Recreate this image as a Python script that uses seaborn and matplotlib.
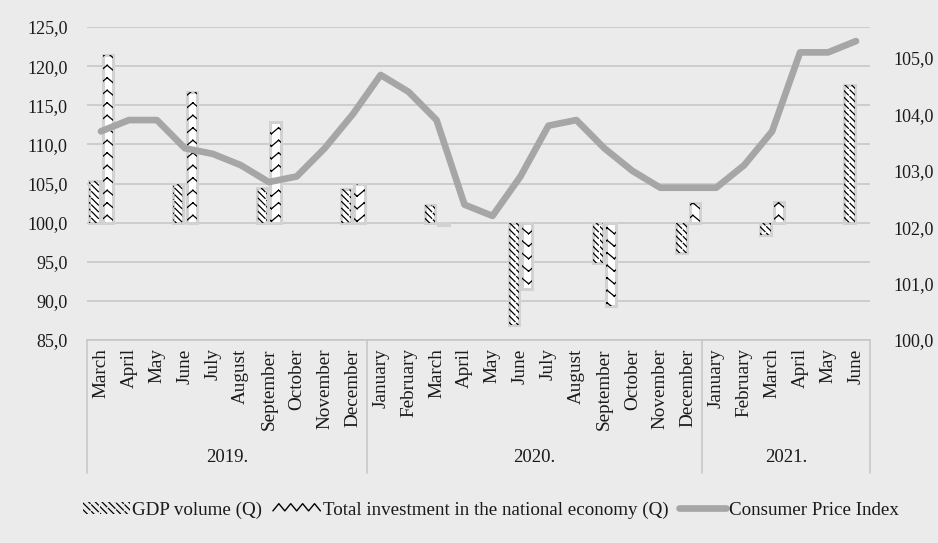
import warnings
import numpy as np
import matplotlib
matplotlib.use("Agg")
import matplotlib.pyplot as plt
import matplotlib.hatch as mhatch
import matplotlib.transforms as mtransforms
from matplotlib.path import Path
from matplotlib.patches import Patch
from matplotlib.lines import Line2D
from matplotlib.legend_handler import HandlerBase
from matplotlib.ticker import FuncFormatter, FixedLocator
import seaborn as sns

warnings.filterwarnings("ignore")

# ---------------------------------------------------------------- data
years = ["2019.", "2020.", "2021."]
months_2019 = ["March", "April", "May", "June", "July", "August",
               "September", "October", "November", "December"]
months_2020 = ["January", "February", "March", "April", "May", "June",
               "July", "August", "September", "October", "November", "December"]
months_2021 = ["January", "February", "March", "April", "May", "June"]

nan = np.nan
# quarterly series, reported at the last month of each quarter
gdp_volume = [105.3, nan, nan, 105.0, nan, nan, 104.4, nan, nan, 104.3,
              nan, nan, 102.3, nan, nan, 86.9, nan, nan, 94.8, nan, nan, 96.1,
              nan, nan, 98.4, nan, nan, 117.6]
total_investment = [121.4, nan, nan, 116.7, nan, nan, 112.9, nan, nan, 104.9,
                    nan, nan, 99.7, nan, nan, 91.5, nan, nan, 89.4, nan, nan, 102.5,
                    nan, nan, 102.6, nan, nan, nan]
consumer_price_index = [103.7, 103.9, 103.9, 103.4, 103.3, 103.1, 102.8, 102.9, 103.4, 104.0,
                        104.7, 104.4, 103.9, 102.4, 102.2, 102.9, 103.8, 103.9, 103.4, 103.0,
                        102.7, 102.7,
                        102.7, 103.1, 103.7, 105.1, 105.1, 105.3]

series_labels = ["GDP volume (Q)", "Total investment in the national economy (Q)",
                 "Consumer Price Index"]


# ---------------------------------------------------------------- custom hatches
class SegmentHatch(mhatch.HatchPatternBase):
    """Hatch built from independent two-point strokes (nothing gets filled)."""
    code = None

    def __init__(self, hatch, density):
        self.segs = self.build() if self.code in hatch else []
        self.num_vertices = 2 * len(self.segs)

    def build(self):
        return []

    def set_vertices_and_codes(self, vertices, codes):
        for i, (xa, ya, xb, yb) in enumerate(self.segs):
            vertices[2 * i] = (xa, ya)
            vertices[2 * i + 1] = (xb, yb)
            codes[2 * i] = Path.MOVETO
            codes[2 * i + 1] = Path.LINETO


class ZigzagHatch(SegmentHatch):
    """Rows of small horizontal zig-zags ('z')."""
    code = "z"
    rows, teeth, amp = 8, 7, 0.06

    def build(self):
        n = 2 * self.teeth + 1
        xs = np.linspace(0.0, 1.0, n)
        wiggle = self.amp * (np.arange(n) % 2)
        segs = []
        for r in range(self.rows):
            ys = (r + 0.3) / self.rows + wiggle
            for i in range(n - 1):
                segs.append((xs[i], ys[i], xs[i + 1], ys[i + 1]))
        return segs


class DashedDiagonalHatch(SegmentHatch):
    """Dashed downward diagonals ('d')."""
    code = "d"
    spacing, period, on = 1 / 15, 1 / 12, 0.8

    def build(self):
        segs = []
        n = int(round(2 / self.spacing))
        for k in range(n):
            c = k * self.spacing
            x0, x1 = max(0.0, c - 1.0), min(1.0, c)
            t = x0 - (x0 % self.period)
            while t < x1:
                a, b = max(t, x0), min(t + self.period * self.on, x1)
                if b > a:
                    segs.append((a, c - a, b, c - b))
                t += self.period
        return segs


mhatch._hatch_types.append(ZigzagHatch)
mhatch._hatch_types.append(DashedDiagonalHatch)


class HandlerZigzag(HandlerBase):
    def create_artists(self, legend, orig_handle, xdescent, ydescent,
                       width, height, fontsize, trans):
        n = 4
        k = np.arange(2 * n + 1)
        xs = np.linspace(0, width, 2 * n + 1) - xdescent
        ys = np.where(k % 2 == 1, height * 0.85, height * 0.25) - ydescent
        return [Line2D(xs, ys, color="black", lw=1.0, transform=trans)]


# ---------------------------------------------------------------- style
BG = "#ebebeb"
GRID = "#c4c4c4"
TEXT = "#1a1a1a"
LINE = "#a6a6a6"

sns.set_style("white", {"axes.facecolor": BG, "figure.facecolor": BG})
plt.rcParams["font.family"] = ["Liberation Serif", "DejaVu Serif"]
plt.rcParams["hatch.linewidth"] = 0.9
FS = 13

months = months_2019 + months_2020 + months_2021
pos = np.arange(len(months))
group_sizes = [len(months_2019), len(months_2020), len(months_2021)]

fig = plt.figure(figsize=(9.38, 5.43), dpi=100)
ax = fig.add_axes([87 / 938, 1 - 340 / 543, (870 - 87) / 938, (340 - 27) / 543])
ax.set_facecolor(BG)

# ---------------------------------------------------------------- bars
gdp = np.array(gdp_volume, dtype=float)
inv = np.array(total_investment, dtype=float)
bw = 0.37
off_gdp, off_inv = -0.235, 0.245
base = 100.0

for values, off, hatch in [(gdp, off_gdp, "d"), (inv, off_inv, "z")]:
    ok = ~np.isnan(values)
    x = pos[ok] + off
    h = values[ok] - base
    # soft halo + white fill
    ax.bar(x, h, width=bw, bottom=base, color="white", edgecolor="#d2d2d2",
           linewidth=2.2, zorder=2)
    # pattern
    ax.bar(x, h, width=bw, bottom=base, color="none", edgecolor="black",
           linewidth=0, hatch=hatch, zorder=3)

ax.set_xlim(-0.5, len(months) - 0.5)
ax.set_ylim(85, 125)
ax.yaxis.set_major_locator(FixedLocator(np.arange(85, 125.1, 5)))
ax.yaxis.set_major_formatter(FuncFormatter(lambda v, p: f"{v:.1f}".replace(".", ",")))
ax.grid(axis="y", color=GRID, linewidth=1.1, zorder=0)
ax.set_axisbelow(True)
for side in ["left", "right", "top"]:
    ax.spines[side].set_visible(False)
ax.spines["bottom"].set_color(GRID)
ax.spines["bottom"].set_linewidth(1.1)

ax.set_xticks(pos)
ax.set_xticklabels(months, rotation=90, fontsize=13.8, color=TEXT)
ax.tick_params(axis="x", length=0, pad=6)
ax.tick_params(axis="y", length=0, pad=14, labelsize=FS, labelcolor=TEXT)

# year groups below the month labels
blend = mtransforms.blended_transform_factory(ax.transData, ax.transAxes)
box_depth = -(473 - 340) / (340 - 27)
edges = np.concatenate([[0], np.cumsum(group_sizes)]) - 0.5
for e in edges:
    ax.add_line(Line2D([e, e], [0, box_depth], transform=blend, color=GRID,
                       lw=1.1, clip_on=False))
for yr, a, b in zip(years, edges[:-1], edges[1:]):
    ax.text((a + b) / 2, -(458 - 340) / (340 - 27), yr, transform=blend,
            ha="center", va="center", fontsize=13.5, color=TEXT)

# ---------------------------------------------------------------- CPI line
ax2 = ax.twinx()
sns.lineplot(x=pos, y=consumer_price_index, ax=ax2, color=LINE, lw=4.8,
             solid_capstyle="round", solid_joinstyle="round", zorder=5)
ax2.set_ylim(100, 105.55)
ax2.yaxis.set_major_locator(FixedLocator(np.arange(100, 105.1, 1)))
ax2.yaxis.set_major_formatter(FuncFormatter(lambda v, p: f"{v:.1f}".replace(".", ",")))
ax2.tick_params(axis="y", length=0, pad=17, labelsize=FS, labelcolor=TEXT)
ax2.set_xlabel("")
ax2.set_ylabel("")
ax2.grid(False)
for side in ["left", "right", "top", "bottom"]:
    ax2.spines[side].set_visible(False)
ax.set_xlim(-0.5, len(months) - 0.5)

# ---------------------------------------------------------------- legend
h_gdp = Patch(facecolor="none", edgecolor="black", linewidth=0, hatch="d")
h_inv = Patch(facecolor="none", edgecolor="black", linewidth=0)
h_cpi = Line2D([], [], color=LINE, lw=4.8)
fig.legend([h_gdp, h_inv, h_cpi], series_labels, loc="center",
           bbox_to_anchor=(0.523, 1 - 510 / 543), ncol=3, frameon=False,
           fontsize=13.7, handlelength=2.5, handleheight=0.6, handletextpad=0.12,
           columnspacing=0.55, labelcolor=TEXT,
           handler_map={h_inv: HandlerZigzag()})

fig.savefig("out.png", dpi=100, facecolor=BG)
